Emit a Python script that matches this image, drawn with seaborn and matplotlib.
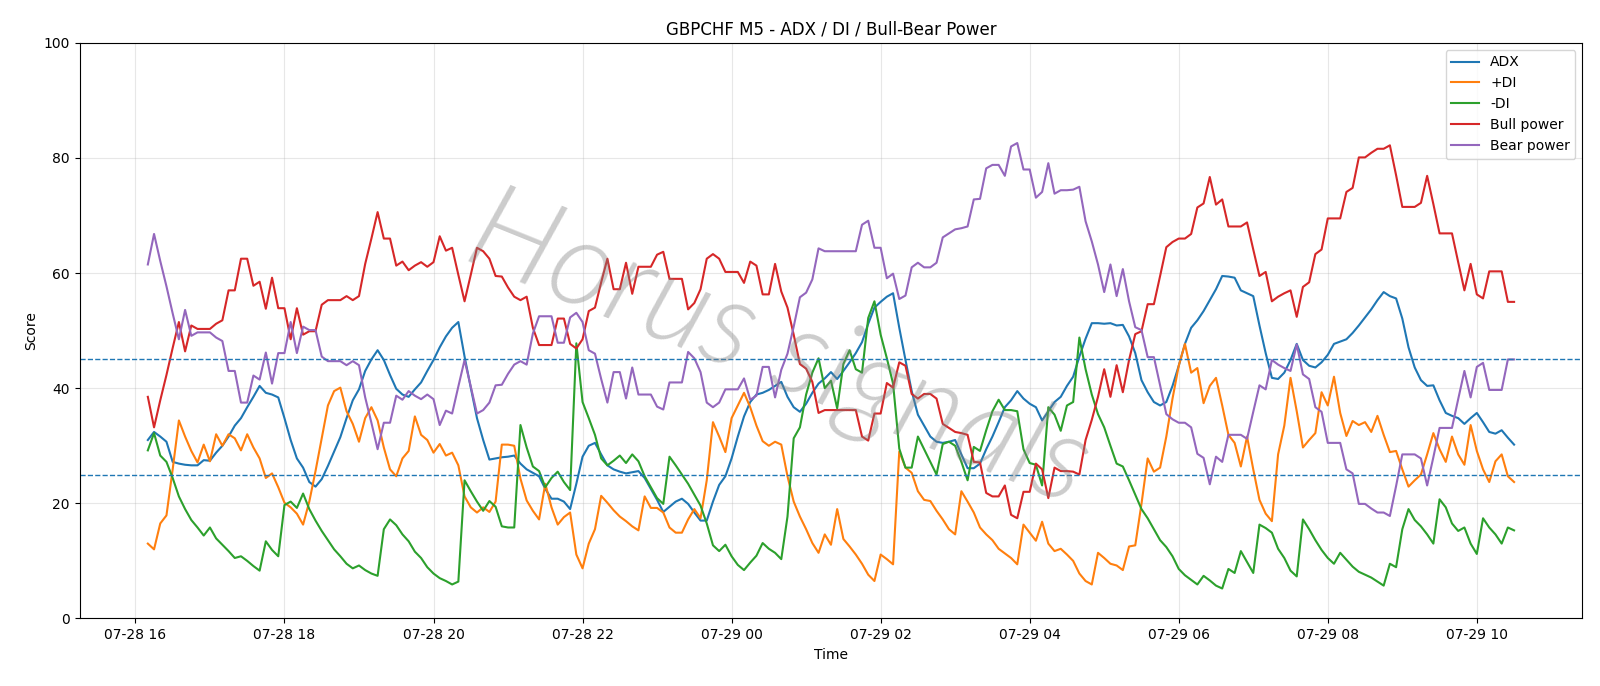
import pandas as pd
import numpy as np
import seaborn as sns
import matplotlib
matplotlib.use("Agg")
import matplotlib.pyplot as plt
import matplotlib.dates as mdates

# 5-minute bars, 07-28 16:10 -> 07-29 10:30
times = pd.date_range("2025-07-28 16:10", periods=221, freq="5min")

adx = [31.0, 32.4, 31.6, 30.7, 27.2, 26.9, 26.7, 26.6, 26.6, 27.5,
       27.4, 28.8, 30.0, 31.6, 33.5, 34.8, 36.7, 38.5, 40.4, 39.2,
       38.9, 38.4, 34.8, 31.0, 27.8, 26.2, 23.7, 22.9, 24.2, 26.5,
       29.0, 31.5, 34.8, 37.9, 39.8, 43.0, 45.0, 46.6, 44.9, 42.3,
       39.9, 38.9, 38.5, 39.8, 41.0, 43.0, 44.9, 47.1, 49.0, 50.5,
       51.5, 45.5, 40.1, 34.8, 31.0, 27.6, 27.8, 28.0, 28.1, 28.3,
       26.9, 25.9, 25.3, 24.7, 22.5, 20.8, 20.8, 20.3, 19.0, 23.4,
       28.1, 30.0, 30.5, 28.5, 26.6, 25.9, 25.5, 25.2, 25.4, 25.6,
       24.4, 22.5, 20.6, 18.5, 19.4, 20.3, 20.8, 19.9, 18.4, 17.0,
       17.0, 20.3, 23.2, 24.7, 27.8, 31.6, 35.1, 37.6, 38.9, 39.2,
       39.7, 40.4, 41.1, 38.5, 36.7, 35.9, 37.3, 39.2, 40.8, 41.7,
       42.8, 41.6, 43.0, 44.5, 46.1, 48.0, 51.2, 54.0, 55.0, 55.9,
       56.5, 50.5, 44.9, 39.5, 35.4, 33.5, 31.6, 30.7, 30.5, 30.7,
       31.0, 28.5, 26.1, 26.1, 26.9, 29.4, 31.6, 34.1, 36.7, 37.9,
       39.5, 38.2, 37.3, 36.7, 34.4, 36.0, 37.6, 38.5, 40.4, 42.0,
       45.5, 48.6, 51.3, 51.3, 51.2, 51.3, 50.9, 51.0, 49.0, 46.1,
       41.4, 39.3, 37.6, 37.0, 37.6, 40.4, 43.9, 47.7, 50.5, 51.8,
       53.4, 55.3, 57.2, 59.5, 59.4, 59.2, 57.0, 56.5, 56.0, 50.9,
       46.1, 41.8, 41.6, 42.7, 44.9, 47.7, 44.9, 43.9, 43.6, 44.5,
       45.8, 47.7, 48.1, 48.5, 49.6, 50.9, 52.3, 53.7, 55.3, 56.7,
       56.0, 55.6, 52.1, 47.1, 43.6, 41.4, 40.4, 40.5, 37.9, 35.7,
       35.2, 34.8, 33.8, 34.8, 35.7, 34.1, 32.4, 32.1, 32.7, 31.4,
       30.2]

plus_di = [13.0, 12.0, 16.5, 17.9, 25.9, 34.4, 31.6, 29.1, 27.1, 30.2,
           27.3, 32.0, 30.0, 32.0, 31.3, 29.2, 32.0, 29.7, 27.8, 24.4,
           25.2, 22.8, 20.1, 19.3, 18.2, 16.3, 20.3, 25.6, 31.3, 37.0,
           39.5, 40.1, 36.0, 33.8, 30.7, 34.8, 36.7, 34.4, 29.7, 25.9,
           24.7, 27.8, 29.1, 35.1, 31.9, 31.0, 28.8, 30.3, 28.3, 28.8,
           26.6, 21.2, 19.3, 18.4, 19.3, 18.5, 20.3, 30.2, 30.2, 30.0,
           24.3, 20.5, 18.7, 17.2, 23.4, 19.3, 16.3, 17.6, 18.4, 11.1,
           8.7, 13.0, 15.5, 21.3, 20.1, 18.8, 17.7, 16.9, 16.0, 15.3,
           21.2, 19.2, 19.2, 18.4, 15.8, 14.9, 14.9, 17.2, 19.0, 17.4,
           24.0, 34.1, 31.6, 28.9, 34.8, 37.0, 39.2, 36.7, 33.5, 30.8,
           30.0, 30.7, 30.2, 24.7, 20.3, 17.7, 15.5, 13.1, 11.4, 14.6,
           12.8, 19.0, 13.8, 12.5, 11.1, 9.5, 7.6, 6.5, 11.1, 10.3,
           9.4, 29.0, 26.2, 25.3, 22.1, 20.6, 20.4, 18.7, 17.2, 15.5,
           14.6, 22.1, 20.3, 18.4, 15.8, 14.6, 13.6, 12.1, 11.3, 10.5,
           9.4, 16.3, 14.9, 13.5, 16.8, 13.0, 11.7, 12.1, 11.1, 10.0,
           7.8, 6.5, 5.9, 11.4, 10.5, 9.5, 9.2, 8.4, 12.5, 12.7,
           19.9, 27.8, 25.5, 26.2, 31.6, 38.2, 43.9, 47.7, 42.7, 43.5,
           37.4, 40.4, 41.8, 37.0, 31.9, 30.5, 26.4, 31.6, 25.9, 20.6,
           18.2, 16.9, 28.5, 33.5, 41.8, 36.0, 29.7, 31.0, 32.2, 39.3,
           37.0, 42.0, 35.7, 31.7, 34.3, 33.6, 34.1, 32.4, 35.2, 31.9,
           28.9, 29.1, 25.9, 22.9, 24.0, 25.0, 28.5, 32.2, 29.4, 27.2,
           31.6, 28.5, 26.7, 33.6, 29.1, 25.9, 23.7, 27.3, 28.5, 24.7,
           23.7]

minus_di = [29.2, 32.2, 28.3, 27.2, 24.4, 21.2, 19.0, 17.1, 15.8, 14.4,
            15.8, 13.9, 12.8, 11.7, 10.5, 10.8, 10.0, 9.1, 8.3, 13.4,
            11.9, 10.8, 19.7, 20.3, 19.2, 21.7, 19.0, 17.0, 15.2, 13.6,
            12.0, 10.8, 9.5, 8.7, 9.2, 8.4, 7.8, 7.4, 15.5, 17.2,
            16.2, 14.6, 13.4, 11.6, 10.5, 8.9, 7.8, 7.0, 6.5, 5.9,
            6.4, 24.0, 22.1, 20.3, 18.7, 20.4, 19.4, 16.0, 15.8, 15.8,
            33.6, 29.7, 26.4, 25.6, 22.8, 24.4, 25.5, 23.7, 22.3, 47.8,
            37.6, 34.8, 31.9, 27.8, 26.6, 27.4, 28.3, 27.0, 28.5, 27.3,
            24.7, 22.8, 20.9, 19.9, 28.1, 26.6, 25.0, 23.4, 21.5, 19.6,
            16.5, 12.7, 11.7, 12.8, 10.8, 9.3, 8.4, 9.7, 10.9, 13.1,
            12.1, 11.4, 10.3, 17.7, 31.3, 33.2, 38.9, 42.7, 45.2, 40.0,
            41.3, 36.5, 44.2, 46.6, 43.3, 42.7, 52.2, 55.1, 49.3, 45.2,
            40.8, 29.5, 26.2, 26.2, 31.6, 29.4, 27.2, 25.0, 30.3, 30.7,
            30.0, 27.2, 24.0, 29.8, 29.1, 32.7, 36.0, 38.0, 36.2, 36.2,
            36.0, 29.4, 27.0, 26.7, 23.1, 36.7, 35.4, 32.6, 37.0, 37.6,
            48.8, 43.3, 38.9, 35.5, 33.2, 30.0, 26.9, 26.4, 24.0, 21.5,
            19.0, 17.4, 15.5, 13.6, 12.4, 10.8, 8.6, 7.5, 6.7, 5.9,
            7.4, 6.6, 5.7, 5.2, 8.6, 7.9, 11.7, 9.8, 7.9, 16.3,
            15.7, 14.9, 12.1, 10.5, 8.3, 7.3, 17.2, 15.5, 13.6, 11.9,
            10.5, 9.5, 11.4, 10.2, 9.0, 8.1, 7.6, 7.1, 6.4, 5.7,
            9.5, 8.9, 15.5, 19.0, 17.1, 16.0, 14.6, 13.0, 20.7, 19.3,
            16.5, 15.2, 15.8, 13.0, 11.2, 17.4, 15.8, 14.6, 13.0, 15.8,
            15.3]

bull = [38.5, 33.2, 37.9, 42.3, 47.0, 51.5, 46.4, 50.9, 50.3, 50.3,
        50.3, 51.2, 51.8, 57.0, 57.0, 62.5, 62.5, 57.8, 58.5, 53.8,
        59.2, 53.9, 53.9, 48.5, 53.9, 49.3, 49.9, 49.9, 54.5, 55.3,
        55.3, 55.3, 56.0, 55.3, 56.0, 61.6, 66.0, 70.6, 66.0, 66.0,
        61.3, 62.0, 60.5, 61.3, 61.9, 61.1, 61.9, 66.4, 63.9, 64.4,
        59.7, 55.1, 59.7, 64.4, 63.8, 62.5, 59.5, 59.4, 57.5, 55.9,
        55.3, 55.9, 50.5, 47.5, 47.5, 47.5, 52.1, 52.1, 47.7, 46.9,
        48.5, 53.4, 54.0, 58.4, 62.5, 57.2, 57.2, 61.8, 56.4, 61.1,
        61.1, 61.1, 63.2, 63.7, 59.0, 59.0, 59.0, 53.7, 54.8, 57.2,
        62.5, 63.3, 62.5, 60.2, 60.2, 60.2, 58.3, 62.0, 61.3, 56.3,
        56.3, 61.6, 56.8, 54.0, 49.3, 44.2, 43.4, 41.1, 35.7, 36.2,
        36.2, 36.2, 36.2, 36.2, 36.2, 31.6, 30.9, 35.6, 35.6, 40.9,
        40.1, 44.5, 43.9, 39.0, 38.2, 39.0, 39.0, 38.2, 33.8, 33.1,
        32.4, 32.2, 31.9, 27.2, 27.1, 21.8, 21.2, 21.2, 23.1, 18.0,
        17.4, 22.0, 22.0, 26.9, 25.9, 20.9, 26.2, 25.6, 25.6, 25.5,
        25.0, 31.0, 34.5, 38.5, 43.3, 38.5, 44.0, 39.3, 44.9, 49.4,
        49.9, 54.6, 54.6, 59.5, 64.5, 65.4, 66.0, 66.0, 66.8, 71.4,
        72.1, 76.7, 71.9, 72.8, 68.1, 68.1, 68.1, 68.8, 64.1, 59.5,
        60.2, 55.1, 55.9, 56.5, 57.0, 52.4, 57.6, 58.4, 63.3, 64.1,
        69.5, 69.5, 69.5, 74.1, 74.8, 80.1, 80.1, 80.9, 81.6, 81.6,
        82.2, 77.0, 71.5, 71.5, 71.5, 72.2, 76.9, 72.0, 66.9, 66.9,
        66.9, 61.9, 57.0, 61.6, 56.3, 55.6, 60.3, 60.3, 60.3, 55.0,
        55.0]

bear = [61.5, 66.8, 62.1, 57.7, 53.0, 48.5, 53.6, 49.1, 49.7, 49.7,
        49.7, 48.8, 48.2, 43.0, 43.0, 37.5, 37.5, 42.2, 41.5, 46.2,
        40.8, 46.1, 46.1, 51.5, 46.1, 50.7, 50.1, 50.1, 45.5, 44.7,
        44.7, 44.7, 44.0, 44.7, 44.0, 38.4, 34.0, 29.4, 34.0, 34.0,
        38.7, 38.0, 39.5, 38.7, 38.1, 38.9, 38.1, 33.6, 36.1, 35.6,
        40.3, 44.9, 40.3, 35.6, 36.2, 37.5, 40.5, 40.6, 42.5, 44.1,
        44.7, 44.1, 49.5, 52.5, 52.5, 52.5, 47.9, 47.9, 52.3, 53.1,
        51.5, 46.6, 46.0, 41.6, 37.5, 42.8, 42.8, 38.2, 43.6, 38.9,
        38.9, 38.9, 36.8, 36.3, 41.0, 41.0, 41.0, 46.3, 45.2, 42.8,
        37.5, 36.7, 37.5, 39.8, 39.8, 39.8, 41.7, 38.0, 38.7, 43.7,
        43.7, 38.4, 43.2, 46.0, 50.7, 55.8, 56.6, 58.9, 64.3, 63.8,
        63.8, 63.8, 63.8, 63.8, 63.8, 68.4, 69.1, 64.4, 64.4, 59.1,
        59.9, 55.5, 56.1, 61.0, 61.8, 61.0, 61.0, 61.8, 66.2, 66.9,
        67.6, 67.8, 68.1, 72.8, 72.9, 78.2, 78.8, 78.8, 76.9, 82.0,
        82.6, 78.0, 78.0, 73.1, 74.1, 79.1, 73.8, 74.4, 74.4, 74.5,
        75.0, 69.0, 65.5, 61.5, 56.7, 61.5, 56.0, 60.7, 55.1, 50.6,
        50.1, 45.4, 45.4, 40.5, 35.5, 34.6, 34.0, 34.0, 33.2, 28.6,
        27.9, 23.3, 28.1, 27.2, 31.9, 31.9, 31.9, 31.2, 35.9, 40.5,
        39.8, 44.9, 44.1, 43.5, 43.0, 47.6, 42.4, 41.6, 36.7, 35.9,
        30.5, 30.5, 30.5, 25.9, 25.2, 19.9, 19.9, 19.1, 18.4, 18.4,
        17.8, 23.0, 28.5, 28.5, 28.5, 27.8, 23.1, 28.0, 33.1, 33.1,
        33.1, 38.1, 43.0, 38.4, 43.7, 44.4, 39.7, 39.7, 39.7, 45.0,
        45.0]

levels = [45, 25]

df = pd.DataFrame({"time": times, "ADX": adx, "+DI": plus_di, "-DI": minus_di,
                   "Bull power": bull, "Bear power": bear})
long_df = df.melt(id_vars="time", var_name="series", value_name="value")

fig, ax = plt.subplots(figsize=(16, 6.86), dpi=100)
fig.subplots_adjust(left=0.0497, right=0.989, top=0.9375, bottom=0.0985)

sns.lineplot(data=long_df, x="time", y="value", hue="series",
             palette=["C0", "C1", "C2", "C3", "C4"], linewidth=1.5, ax=ax)

for lv in levels:
    ax.axhline(lv, color="C0", linestyle="--", linewidth=1)

ax.set_ylim(0, 100)
ax.set_title("GBPCHF M5 - ADX / DI / Bull-Bear Power")
ax.set_xlabel("Time")
ax.set_ylabel("Score")
ax.xaxis.set_major_locator(mdates.HourLocator(byhour=range(0, 24, 2)))
ax.xaxis.set_major_formatter(mdates.DateFormatter("%m-%d %H"))
ax.grid(True, alpha=0.3)
ax.legend(loc="upper right", title=None)

# watermark, thin grey italic letters
ax.text(0.465, 0.465, "Horus signals", transform=ax.transAxes, fontsize=88,
        family="Lato", style="italic", fontweight=300, color="#808080",
        alpha=0.4, rotation=-22, ha="center", va="center", zorder=5)

plt.savefig("out.png", dpi=100)
